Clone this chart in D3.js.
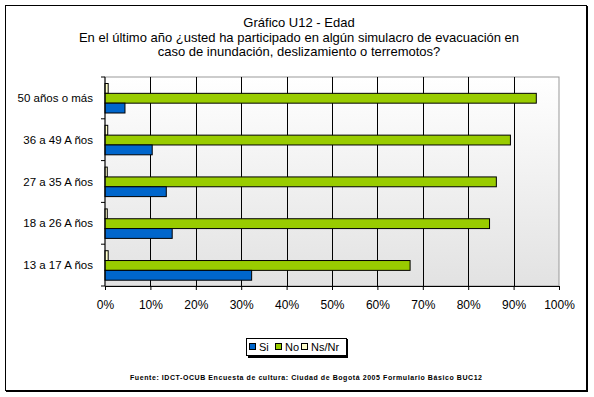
<!DOCTYPE html>
<html>
<head>
<meta charset="utf-8">
<script src="https://cdn.jsdelivr.net/npm/d3@7"></script>
<style>
  body { margin: 0; background: #fff; }
  text { font-family: "Liberation Sans", Arial, sans-serif; }
</style>
</head>
<body>
<div id="app"></div>
<script>
// Chart data
const categories = ['50 años o más', '36 a 49 A ños', '27 a 35 A ños', '18 a 26 A ños', '13 a 17 A ños'];
const seriesNames = ['Si', 'No', 'Ns/Nr'];
const siValues = [4.4, 10.4, 13.5, 14.8, 32.3];
const noValues = [95.0, 89.3, 86.2, 84.7, 67.2];
const nsValues = [0.7, 0.6, 0.5, 0.5, 0.7];
const xTicks = [0, 10, 20, 30, 40, 50, 60, 70, 80, 90, 100];
const titleLines = [
    'Gráfico U12 - Edad',
    'En el último año ¿usted ha participado en algún simulacro de evacuación en',
    'caso de inundación, deslizamiento o terremotos?'
];
const sourceText = 'Fuente: IDCT-OCUB Encuesta de cultura: Ciudad de Bogotá 2005 Formulario Básico  BUC12';

const colors = { 'Si': '#0066CC', 'No': '#99CC00', 'Ns/Nr': '#FFFFCC' };

const rows = categories.map((c, i) => ({
    cat: c,
    'Si': siValues[i],
    'No': noValues[i],
    'Ns/Nr': nsValues[i]
}));

const width = 594;
const height = 397;
const plot = { left: 105, right: 559, top: 77, bottom: 286 };

const svg = d3.select('#app').append('svg')
    .attr('width', width)
    .attr('height', height)
    .attr('viewBox', `0 0 ${width} ${height}`);

// Outer frame with shadow
svg.append('rect')
    .attr('x', 5.5).attr('y', 5.5)
    .attr('width', 581).attr('height', 385)
    .attr('fill', '#fff')
    .attr('stroke', '#000')
    .attr('stroke-width', 1);
svg.append('path')
    .attr('d', 'M587,6 V391 H6')
    .attr('fill', 'none')
    .attr('stroke', '#000')
    .attr('stroke-width', 2);

// Title
svg.append('g')
    .selectAll('text')
    .data(titleLines)
    .join('text')
    .attr('x', 299)
    .attr('y', (d, i) => 27 + i * 14.5)
    .attr('text-anchor', 'middle')
    .attr('font-size', '13px')
    .attr('fill', '#000')
    .text(d => d);

// Scales
const xScale = d3.scaleLinear()
    .domain([0, 100])
    .range([plot.left, plot.right]);

const yScale = d3.scaleBand()
    .domain(categories)
    .range([plot.top, plot.bottom]);

// Excel draws the last series on top
const barOrder = ['Ns/Nr', 'No', 'Si'];
const inner = d3.scaleBand()
    .domain(barOrder)
    .range([6.5, 36]);

// Plot background gradient
const grad = svg.append('defs').append('linearGradient')
    .attr('id', 'plotbg')
    .attr('x1', 0).attr('y1', 0).attr('x2', 0).attr('y2', 1);
grad.append('stop').attr('offset', '0%').attr('stop-color', '#ffffff');
grad.append('stop').attr('offset', '100%').attr('stop-color', '#e2e2e2');

svg.append('rect')
    .attr('x', plot.left).attr('y', plot.top)
    .attr('width', plot.right - plot.left)
    .attr('height', plot.bottom - plot.top)
    .attr('fill', 'url(#plotbg)')
    .attr('stroke', '#999')
    .attr('stroke-width', 1);

// Gridlines
svg.append('g')
    .selectAll('line')
    .data(xTicks.slice(1, -1))
    .join('line')
    .attr('x1', d => Math.round(xScale(d)) + 0.5)
    .attr('x2', d => Math.round(xScale(d)) + 0.5)
    .attr('y1', plot.top)
    .attr('y2', plot.bottom)
    .attr('stroke', '#000')
    .attr('stroke-width', 1);

// Bars
svg.append('g')
    .selectAll('g')
    .data(rows)
    .join('g')
    .attr('transform', d => `translate(0, ${yScale(d.cat)})`)
    .selectAll('rect')
    .data(d => barOrder.map(k => ({ key: k, value: d[k] })))
    .join('rect')
    .attr('x', xScale(0))
    .attr('y', d => inner(d.key))
    .attr('width', d => xScale(d.value) - xScale(0))
    .attr('height', inner.bandwidth())
    .attr('fill', d => colors[d.key])
    .attr('stroke', '#000')
    .attr('stroke-width', 1);

// X axis
const xAxis = svg.append('g')
    .attr('transform', `translate(0, ${plot.bottom})`)
    .call(d3.axisBottom(xScale).tickValues(xTicks).tickSize(4).tickSizeOuter(0).tickFormat(d => d + '%'));
xAxis.selectAll('text')
    .attr('font-size', '12px')
    .attr('font-family', '"Liberation Sans", Arial, sans-serif')
    .attr('fill', '#000')
    .attr('dy', '1.3em');

// Y axis (ticks at category boundaries)
const yAxis = svg.append('g')
    .attr('transform', `translate(${plot.left}, 0)`);
yAxis.append('line')
    .attr('x1', 0).attr('x2', 0)
    .attr('y1', plot.top).attr('y2', plot.bottom)
    .attr('stroke', '#000');
yAxis.selectAll('.bound')
    .data(d3.range(categories.length + 1))
    .join('line')
    .attr('class', 'bound')
    .attr('x1', -4).attr('x2', 0)
    .attr('y1', i => plot.top + i * yScale.step())
    .attr('y2', i => plot.top + i * yScale.step())
    .attr('stroke', '#000');
yAxis.selectAll('text')
    .data(categories)
    .join('text')
    .attr('x', -12)
    .attr('y', d => yScale(d) + yScale.bandwidth() / 2)
    .attr('dy', '0.35em')
    .attr('text-anchor', 'end')
    .attr('font-size', '11.5px')
    .attr('fill', '#000')
    .text(d => d);

// Legend
const legend = svg.append('g');
legend.append('path')
    .attr('d', 'M347,339 V357 H248')
    .attr('fill', 'none')
    .attr('stroke', '#000')
    .attr('stroke-width', 2);
legend.append('rect')
    .attr('x', 246.5).attr('y', 338.5)
    .attr('width', 100).attr('height', 17)
    .attr('fill', '#fff')
    .attr('stroke', '#000')
    .attr('stroke-width', 1);
const legendX = [249, 275, 301];
seriesNames.forEach((name, i) => {
    const g = legend.append('g').attr('transform', `translate(${legendX[i]}, 343)`);
    g.append('rect')
        .attr('x', 0.5).attr('y', 0.5)
        .attr('width', 6).attr('height', 6)
        .attr('fill', colors[name])
        .attr('stroke', '#000');
    g.append('text')
        .attr('x', 10)
        .attr('y', 8)
        .attr('font-size', '11px')
        .attr('fill', '#000')
        .text(name);
});

// Source note
svg.append('text')
    .attr('x', 130)
    .attr('y', 380)
    .attr('font-size', '7px')
    .attr('font-weight', 'bold')
    .attr('textLength', 352)
    .attr('lengthAdjust', 'spacing')
    .attr('fill', '#000')
    .text(sourceText);
</script>
</body>
</html>
